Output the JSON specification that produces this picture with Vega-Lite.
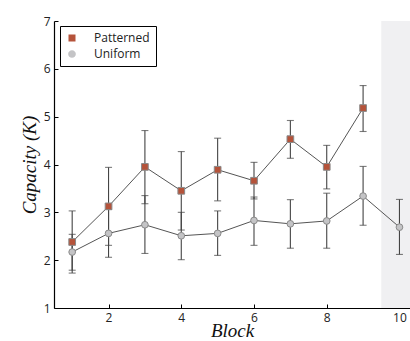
{
  "$schema": "https://vega.github.io/schema/vega-lite/v6.json",
  "width": 356,
  "height": 287,
  "autosize": "none",
  "padding": {"left": 54, "top": 21, "right": 0, "bottom": 33},
  "config": {
    "view": {"stroke": null},
    "axis": {
      "labelFont": "Open Sans", "labelFontSize": 12, "labelColor": "#222",
      "domainColor": "#000", "domainWidth": 1.2, "tickColor": "#000", "tickSize": -4,
      "grid": false,
      "titleFont": "Liberation Serif", "titleFontStyle": "italic", "titleFontWeight": "normal",
      "titleFontSize": 19, "titleColor": "#111"
    }
  },
  "datasets": {
    "d": [
      {"block": 1, "series": "Patterned", "mean": 2.38, "lo": 1.73, "hi": 3.03},
      {"block": 2, "series": "Patterned", "mean": 3.125, "lo": 2.31, "hi": 3.94},
      {"block": 3, "series": "Patterned", "mean": 3.95, "lo": 3.18, "hi": 4.71},
      {"block": 4, "series": "Patterned", "mean": 3.45, "lo": 2.63, "hi": 4.27},
      {"block": 5, "series": "Patterned", "mean": 3.89, "lo": 3.24, "hi": 4.55},
      {"block": 6, "series": "Patterned", "mean": 3.66, "lo": 3.28, "hi": 4.045},
      {"block": 7, "series": "Patterned", "mean": 4.53, "lo": 4.13, "hi": 4.92},
      {"block": 8, "series": "Patterned", "mean": 3.95, "lo": 3.49, "hi": 4.40},
      {"block": 9, "series": "Patterned", "mean": 5.18, "lo": 4.69, "hi": 5.65},
      {"block": 1, "series": "Uniform", "mean": 2.17, "lo": 1.79, "hi": 2.54},
      {"block": 2, "series": "Uniform", "mean": 2.56, "lo": 2.06, "hi": 3.06},
      {"block": 3, "series": "Uniform", "mean": 2.74, "lo": 2.14, "hi": 3.35},
      {"block": 4, "series": "Uniform", "mean": 2.51, "lo": 2.01, "hi": 3.00},
      {"block": 5, "series": "Uniform", "mean": 2.56, "lo": 2.10, "hi": 3.03},
      {"block": 6, "series": "Uniform", "mean": 2.83, "lo": 2.31, "hi": 3.32},
      {"block": 7, "series": "Uniform", "mean": 2.76, "lo": 2.25, "hi": 3.265},
      {"block": 8, "series": "Uniform", "mean": 2.82, "lo": 2.25, "hi": 3.40},
      {"block": 9, "series": "Uniform", "mean": 3.34, "lo": 2.73, "hi": 3.96},
      {"block": 10, "series": "Uniform", "mean": 2.69, "lo": 2.12, "hi": 3.27}
    ],
    "bg": [{"x1": 9.5, "x2": 10.4, "y1": 1, "y2": 7}]
  },
  "layer": [
    {
      "data": {"name": "bg"},
      "mark": {"type": "rect", "fill": "#f0f0f2", "clip": true},
      "encoding": {
        "x": {"field": "x1", "type": "quantitative",
              "scale": {"domain": [0.5, 10.29], "nice": false, "zero": false},
              "axis": {"values": [2, 4, 6, 8, 10], "title": "Block", "labelPadding": 8, "titlePadding": -2}},
        "x2": {"field": "x2"},
        "y": {"field": "y1", "type": "quantitative",
              "scale": {"domain": [1, 7], "nice": false, "zero": false},
              "axis": {"values": [1, 2, 3, 4, 5, 6, 7], "format": "d", "title": "Capacity (K)", "labelPadding": 8, "titlePadding": 4}},
        "y2": {"field": "y2"}
      }
    },
    {
      "data": {"name": "d"},
      "mark": {"type": "errorbar", "ticks": {"size": 7}, "color": "#444", "thickness": 1.1},
      "encoding": {
        "x": {"field": "block", "type": "quantitative", "title": "Block"},
        "y": {"field": "lo", "type": "quantitative", "title": "Capacity (K)"},
        "y2": {"field": "hi"}
      }
    },
    {
      "data": {"name": "d"},
      "mark": {"type": "line", "color": "#555", "strokeWidth": 1},
      "encoding": {
        "x": {"field": "block", "type": "quantitative", "title": "Block"},
        "y": {"field": "mean", "type": "quantitative", "title": "Capacity (K)"},
        "detail": {"field": "series"}
      }
    },
    {
      "data": {"name": "d"},
      "mark": {"type": "point", "filled": true, "opacity": 0, "size": 49, "stroke": "#555", "strokeWidth": 1},
      "encoding": {
        "x": {"field": "block", "type": "quantitative", "title": "Block"},
        "y": {"field": "mean", "type": "quantitative", "title": "Capacity (K)"},
        "fill": {"field": "series", "type": "nominal",
                 "scale": {"domain": ["Patterned", "Uniform"], "range": ["#b5533a", "#c4c4c6"]},
                 "legend": {
                   "title": null, "orient": "none", "legendX": 6, "legendY": 5,
                   "strokeColor": "#000", "padding": 6, "rowPadding": 4,
                   "labelFont": "Open Sans", "labelFontSize": 12, "labelColor": "#222",
                   "symbolSize": 49, "symbolOffset": 0, "labelOffset": 16,
                   "symbolOpacity": 1, "symbolStrokeColor": "#555", "symbolStrokeWidth": 1
                 }},
        "shape": {"field": "series", "type": "nominal",
                  "scale": {"domain": ["Patterned", "Uniform"],
                            "range": ["M-4.7,0H-1M1,0H4.7M-1,-1H1V1H-1Z", "M-4.7,0H-1.1M1.1,0H4.7M1.1,0A1.1,1.1,0,1,1,-1.1,0A1.1,1.1,0,1,1,1.1,0Z"]},
                  "legend": {
                   "title": null, "orient": "none", "legendX": 6, "legendY": 5,
                   "strokeColor": "#000", "padding": 6, "rowPadding": 4,
                   "labelFont": "Open Sans", "labelFontSize": 12, "labelColor": "#222",
                   "symbolSize": 49, "symbolOffset": 0, "labelOffset": 16,
                   "symbolOpacity": 1, "symbolStrokeColor": "#555", "symbolStrokeWidth": 1
                 }}
      }
    },
    {
      "data": {"name": "d"},
      "mark": {"type": "point", "filled": true, "size": 45, "stroke": "#8a8a8a", "strokeWidth": 1, "opacity": 1},
      "encoding": {
        "x": {"field": "block", "type": "quantitative", "title": "Block"},
        "y": {"field": "mean", "type": "quantitative", "title": "Capacity (K)"},
        "fill": {"field": "series", "type": "nominal"},
        "shape": {"condition": {"test": "datum.series === 'Patterned'", "value": "square"}, "value": "circle"}
      }
    }
  ]
}
